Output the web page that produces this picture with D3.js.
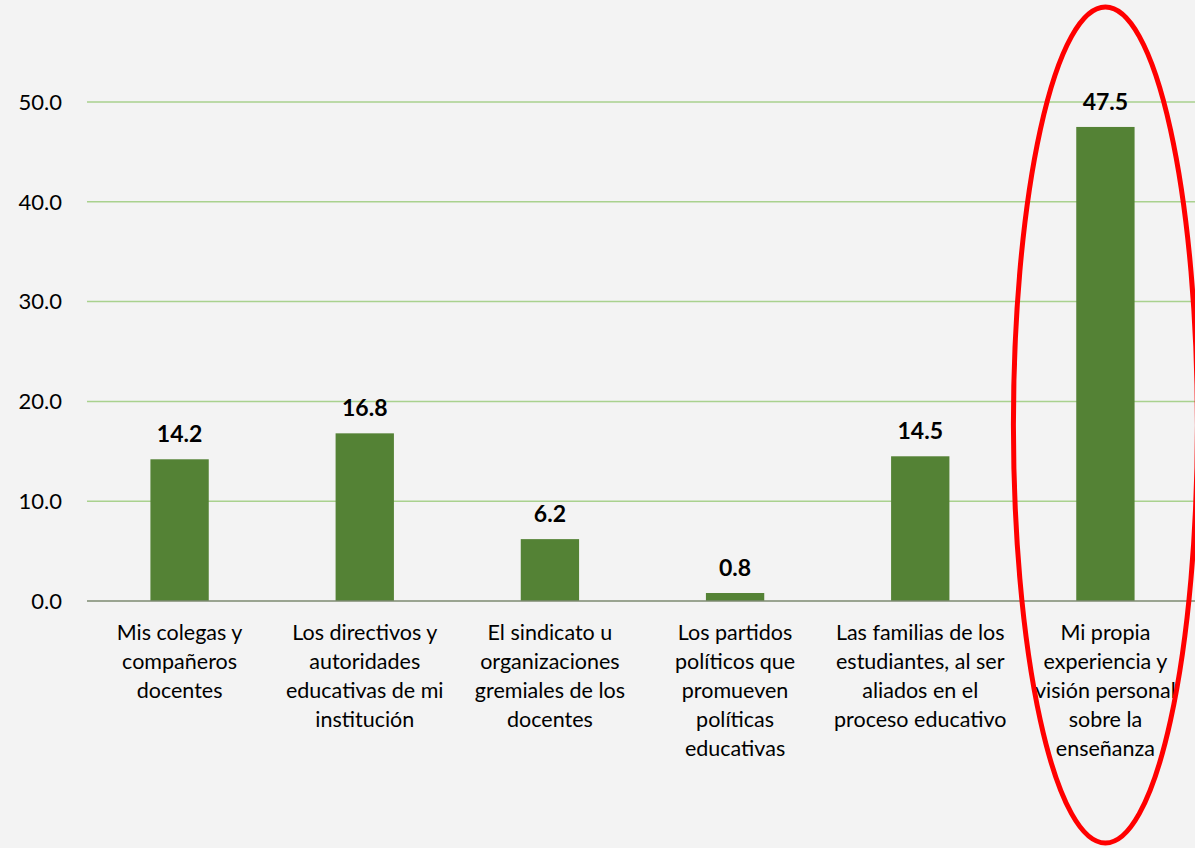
<!DOCTYPE html>
<html>
<head>
<meta charset="utf-8">
<script src="https://cdn.jsdelivr.net/npm/d3@7"></script>
<style>
  html, body { margin: 0; padding: 0; background: #f3f3f3; }
  svg { display: block; font-family: Lato, "Open Sans", sans-serif; }
</style>
</head>
<body>
<svg id="chart" width="1195" height="848"></svg>
<script>
// data
const categories = [
  ["Mis colegas y", "compañeros", "docentes"],
  ["Los directivos y", "autoridades", "educativas de mi", "institución"],
  ["El sindicato u", "organizaciones", "gremiales de los", "docentes"],
  ["Los partidos", "políticos que", "promueven", "políticas", "educativas"],
  ["Las familias de los", "estudiantes, al ser", "aliados en el", "proceso educativo"],
  ["Mi propia", "experiencia y", "visión personal", "sobre la", "enseñanza"]
];
const values = [14.2, 16.8, 6.2, 0.8, 14.5, 47.5];
const yTicks = [0, 10, 20, 30, 40, 50];

const svg = d3.select("#chart");
const plotLeft = 87, plotRight = 1198, plotTop = 102, plotBottom = 601;

const x = d3.scaleBand()
    .domain(d3.range(values.length))
    .range([plotLeft, plotRight])
    .paddingInner(0.685)
    .paddingOuter(0.3425);

const y = d3.scaleLinear()
    .domain([0, 50])
    .range([plotBottom, plotTop]);

// gridlines
svg.append("g")
    .selectAll("line")
    .data(yTicks.filter(d => d > 0))
    .enter().append("line")
    .attr("x1", plotLeft)
    .attr("x2", 1195)
    .attr("y1", d => y(d))
    .attr("y2", d => y(d))
    .attr("stroke", "#a9d18e")
    .attr("stroke-width", 1.5);

// y labels
svg.append("g")
    .selectAll("text")
    .data(yTicks)
    .enter().append("text")
    .attr("x", 62)
    .attr("y", d => y(d))
    .attr("dy", "0.35em")
    .attr("text-anchor", "end")
    .attr("font-size", "22px")
    .attr("fill", "#000")
    .text(d => d.toFixed(1));

// bars
svg.append("g")
    .selectAll("rect")
    .data(values)
    .enter().append("rect")
    .attr("x", (d, i) => x(i))
    .attr("y", d => y(d))
    .attr("width", x.bandwidth())
    .attr("height", d => y(0) - y(d))
    .attr("fill", "#548235");

// baseline
svg.append("line")
    .attr("x1", plotLeft)
    .attr("x2", 1195)
    .attr("y1", y(0))
    .attr("y2", y(0))
    .attr("stroke", "#7c8a70")
    .attr("stroke-width", 1.5);

// value labels
svg.append("g")
    .selectAll("text")
    .data(values)
    .enter().append("text")
    .attr("x", (d, i) => x(i) + x.bandwidth() / 2)
    .attr("y", d => y(d) - 17)
    .attr("text-anchor", "middle")
    .attr("font-size", "23px")
    .attr("font-weight", "bold")
    .attr("fill", "#000")
    .text(d => d.toFixed(1));

// category labels
const cat = svg.append("g")
    .selectAll("text")
    .data(categories)
    .enter().append("text")
    .attr("text-anchor", "middle")
    .attr("font-size", "21.5px")
    .attr("fill", "#000");

cat.each(function (lines, i) {
    const t = d3.select(this);
    lines.forEach((s, j) => {
        t.append("tspan")
            .attr("x", x(i) + x.bandwidth() / 2)
            .attr("y", 640 + j * 29)
            .text(s);
    });
});

// highlight ellipse
svg.append("ellipse")
    .attr("cx", x(5) + x.bandwidth() / 2)
    .attr("cy", 425)
    .attr("rx", 92)
    .attr("ry", 418)
    .attr("fill", "none")
    .attr("stroke", "#ff0000")
    .attr("stroke-width", 5);
</script>
</body>
</html>
